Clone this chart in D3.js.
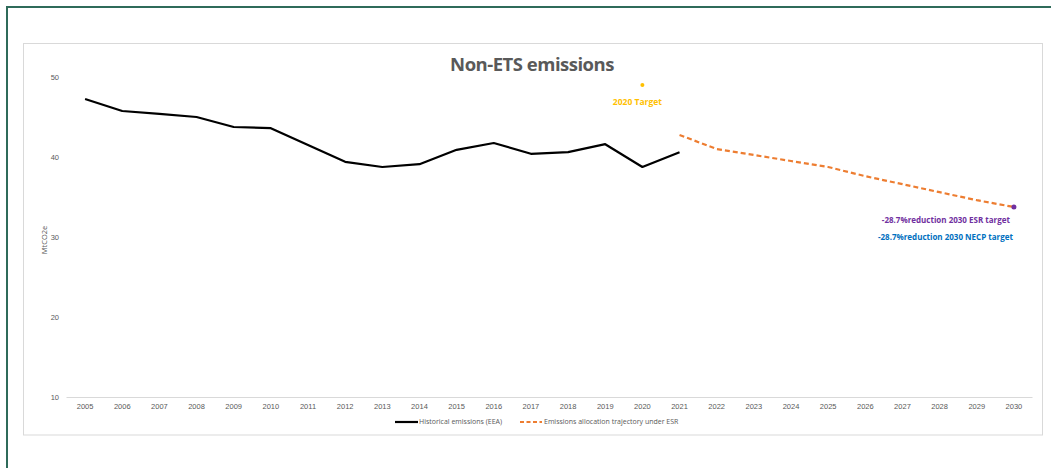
<!DOCTYPE html>
<html>
<head>
<meta charset="utf-8">
<script src="https://cdn.jsdelivr.net/npm/d3@7"></script>
<style>
  html, body { margin: 0; padding: 0; background: #fff; }
  svg { display: block; font-family: "Open Sans", "Liberation Sans", sans-serif; }
</style>
</head>
<body>
<svg id="chart" width="1051" height="468"></svg>
<script>
const years = ["2005","2006","2007","2008","2009","2010","2011","2012","2013","2014","2015","2016","2017","2018","2019","2020","2021","2022","2023","2024","2025","2026","2027","2028","2029","2030"];
const historicalYears = ["2005","2006","2007","2008","2009","2010","2011","2012","2013","2014","2015","2016","2017","2018","2019","2020","2021"];
const historicalValues = [47.25, 45.75, 45.4, 45.0, 43.75, 43.6, 41.5, 39.4, 38.75, 39.1, 40.9, 41.75, 40.4, 40.6, 41.6, 38.75, 40.6];
const esrYears = ["2021","2022","2023","2024","2025","2026","2027","2028","2029","2030"];
const esrValues = [42.75, 41.0, 40.25, 39.5, 38.75, 37.6, 36.6, 35.6, 34.6, 33.75];
const target2020 = { year: "2020", value: 49.0, label: "2020 Target" };
const target2030 = { year: "2030", value: 33.75 };
const target2030Labels = ["-28.7%reduction 2030 ESR target", "-28.7%reduction 2030 NECP target"];
const yTicks = [10, 20, 30, 40, 50];
const title = "Non-ETS emissions";
const yLabel = "MtCO2e";
const legendLabels = ["Historical emissions (EEA)", "Emissions allocation trajectory under ESR"];

const svg = d3.select("#chart");

// outer frame (green)
svg.append("line").attr("x1", 7).attr("x2", 1051).attr("y1", 7).attr("y2", 7)
  .attr("stroke", "#2f6b5a").attr("stroke-width", 2);
svg.append("line").attr("x1", 7).attr("x2", 7).attr("y1", 6).attr("y2", 468)
  .attr("stroke", "#2f6b5a").attr("stroke-width", 2);

// inner chart box
svg.append("rect").attr("x", 23.5).attr("y", 43.5).attr("width", 1019).attr("height", 391.5)
  .attr("fill", "#fff").attr("stroke", "#d9d9d9").attr("stroke-width", 1);

const x = d3.scaleBand().domain(years).range([66.5, 1032.5]);
const y = d3.scaleLinear().domain([10, 50]).range([397, 77]);
const cx = d => x(d) + x.bandwidth() / 2;

// x axis baseline
svg.append("line").attr("x1", 66.5).attr("x2", 1032.5).attr("y1", y(10) + 0.5).attr("y2", y(10) + 0.5)
  .attr("stroke", "#d9d9d9").attr("stroke-width", 1);

// y tick labels
const yAxis = d3.axisLeft(y).tickValues(yTicks).tickSize(0).tickPadding(0);
const gy = svg.append("g").attr("transform", "translate(59,0)").call(yAxis);
gy.select(".domain").remove();
gy.selectAll("text").attr("fill", "#595959").attr("font-size", 7.5).attr("dy", "0.32em");

// x tick labels
const xAxis = d3.axisBottom(x).tickSize(0).tickPadding(0);
const gx = svg.append("g").attr("transform", `translate(0,${y(10) + 7})`).call(xAxis);
gx.select(".domain").remove();
gx.selectAll("text").attr("fill", "#595959").attr("font-size", 7.5).attr("dy", "0.71em");

// title
svg.append("text").attr("x", 532).attr("y", 71).attr("text-anchor", "middle")
  .attr("font-size", 18.5).attr("font-weight", "bold").attr("fill", "#595959")
  .attr("letter-spacing", -0.5).text(title);

// y label
svg.append("text").attr("transform", "translate(47,240) rotate(-90)")
  .attr("text-anchor", "middle").attr("font-size", 7.5).attr("fill", "#595959").text(yLabel);

// historical line
const histData = historicalYears.map((d, i) => ({ year: d, value: historicalValues[i] }));
svg.append("path").datum(histData)
  .attr("fill", "none").attr("stroke", "#000").attr("stroke-width", 2.2).attr("stroke-linejoin", "round")
  .attr("d", d3.line().x(d => cx(d.year)).y(d => y(d.value)));

// ESR trajectory
const esrData = esrYears.map((d, i) => ({ year: d, value: esrValues[i] }));
svg.append("path").datum(esrData)
  .attr("fill", "none").attr("stroke", "#ED7D31").attr("stroke-width", 2.2).attr("stroke-dasharray", "5,3")
  .attr("d", d3.line().x(d => cx(d.year)).y(d => y(d.value)));

// 2020 target
svg.append("circle").attr("cx", cx(target2020.year)).attr("cy", y(target2020.value)).attr("r", 2)
  .attr("fill", "#FFC000");
svg.append("text").attr("x", cx(target2020.year) - 5).attr("y", y(target2020.value) + 20)
  .attr("text-anchor", "middle").attr("font-size", 8.5).attr("font-weight", "bold").attr("fill", "#FFC000")
  .text(target2020.label);

// 2030 target
svg.append("circle").attr("cx", cx(target2030.year)).attr("cy", y(target2030.value)).attr("r", 2.5)
  .attr("fill", "#7030A0");
svg.append("text").attr("x", cx(target2030.year) - 4).attr("y", y(target2030.value) + 16)
  .attr("text-anchor", "end").attr("font-size", 8).attr("font-weight", "bold").attr("fill", "#7030A0")
  .text(target2030Labels[0]);
svg.append("text").attr("x", cx(target2030.year) - 1).attr("y", y(target2030.value) + 33)
  .attr("text-anchor", "end").attr("font-size", 8).attr("font-weight", "bold").attr("fill", "#0070C0")
  .text(target2030Labels[1]);

// legend
const ly = 422;
svg.append("line").attr("x1", 395).attr("x2", 418).attr("y1", ly).attr("y2", ly)
  .attr("stroke", "#000").attr("stroke-width", 2.2);
svg.append("text").attr("x", 419).attr("y", ly).attr("dy", "0.35em").attr("font-size", 7)
  .attr("fill", "#595959").text(legendLabels[0]);
svg.append("line").attr("x1", 520).attr("x2", 542).attr("y1", ly).attr("y2", ly)
  .attr("stroke", "#ED7D31").attr("stroke-width", 2.2).attr("stroke-dasharray", "4,2.5");
svg.append("text").attr("x", 544).attr("y", ly).attr("dy", "0.35em").attr("font-size", 7)
  .attr("fill", "#595959").text(legendLabels[1]);
</script>
</body>
</html>
